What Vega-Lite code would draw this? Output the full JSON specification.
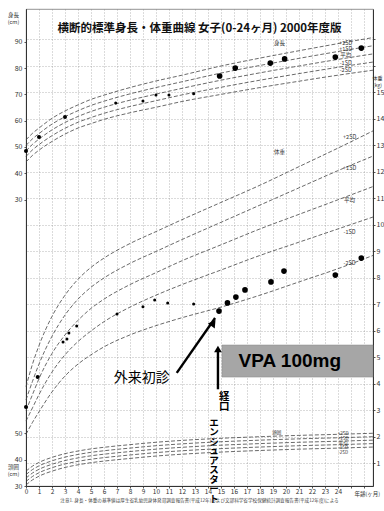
{
  "$schema": "https://vega.github.io/schema/vega-lite/v6.json",
  "width": 347,
  "height": 477,
  "autosize": "none",
  "padding": {"left": 26, "top": 9, "right": 11, "bottom": 25},
  "background": "white",
  "config": {
    "font": "Noto Sans CJK JP",
    "view": {"stroke": "#777", "strokeWidth": 0.8},
    "axis": {"labelFont": "Noto Sans CJK JP", "titleFont": "Noto Sans CJK JP", "labelColor": "#333", "titleColor": "#333", "tickColor": "#555", "domainColor": "#333"}
  },
  "title": {"text": "横断的標準身長・体重曲線 女子(0-24ヶ月) 2000年度版", "fontSize": 11.5, "fontWeight": "bold", "anchor": "middle", "offset": -25, "color": "#111", "font": "Noto Sans CJK JP"},
  "datasets": {
    "heightCurves": [
      {"month": 0, "-2SD": 44.3, "-1SD": 46.4, "平均": 48.5, "+1SD": 50.6, "+2SD": 52.7},
      {"month": 0.5, "-2SD": 46.8, "-1SD": 48.9, "平均": 51.0, "+1SD": 53.1, "+2SD": 55.2},
      {"month": 1, "-2SD": 48.8, "-1SD": 50.9, "平均": 53.0, "+1SD": 55.1, "+2SD": 57.2},
      {"month": 2, "-2SD": 52.1, "-1SD": 54.3, "平均": 56.5, "+1SD": 58.7, "+2SD": 60.9},
      {"month": 3, "-2SD": 54.9, "-1SD": 57.1, "平均": 59.3, "+1SD": 61.5, "+2SD": 63.7},
      {"month": 4, "-2SD": 57.2, "-1SD": 59.4, "平均": 61.6, "+1SD": 63.8, "+2SD": 66.0},
      {"month": 5, "-2SD": 58.9, "-1SD": 61.2, "平均": 63.5, "+1SD": 65.8, "+2SD": 68.1},
      {"month": 6, "-2SD": 60.5, "-1SD": 62.8, "平均": 65.1, "+1SD": 67.4, "+2SD": 69.7},
      {"month": 8, "-2SD": 63.0, "-1SD": 65.4, "平均": 67.8, "+1SD": 70.2, "+2SD": 72.6},
      {"month": 10, "-2SD": 65.1, "-1SD": 67.6, "平均": 70.1, "+1SD": 72.6, "+2SD": 75.1},
      {"month": 12, "-2SD": 67.3, "-1SD": 69.8, "平均": 72.3, "+1SD": 74.8, "+2SD": 77.3},
      {"month": 15, "-2SD": 70.0, "-1SD": 72.7, "平均": 75.4, "+1SD": 78.1, "+2SD": 80.8},
      {"month": 18, "-2SD": 72.6, "-1SD": 75.4, "平均": 78.2, "+1SD": 81.0, "+2SD": 83.8},
      {"month": 21, "-2SD": 75.0, "-1SD": 77.9, "平均": 80.8, "+1SD": 83.7, "+2SD": 86.6},
      {"month": 24, "-2SD": 77.3, "-1SD": 80.3, "平均": 83.3, "+1SD": 86.3, "+2SD": 89.3},
      {"month": 26.7, "-2SD": 79.2, "-1SD": 82.3, "平均": 85.4, "+1SD": 88.5, "+2SD": 91.6}
    ],
    "weightCurves": [
      {"month": 0, "-2SD": 2.1, "-1SD": 2.6, "平均": 3.0, "+1SD": 3.4, "+2SD": 3.9},
      {"month": 0.5, "-2SD": 2.55, "-1SD": 3.1, "平均": 3.6, "+1SD": 4.1, "+2SD": 4.75},
      {"month": 1, "-2SD": 2.95, "-1SD": 3.6, "平均": 4.2, "+1SD": 4.75, "+2SD": 5.45},
      {"month": 2, "-2SD": 3.7, "-1SD": 4.45, "平均": 5.15, "+1SD": 5.8, "+2SD": 6.55},
      {"month": 3, "-2SD": 4.3, "-1SD": 5.1, "平均": 5.85, "+1SD": 6.6, "+2SD": 7.35},
      {"month": 4, "-2SD": 4.75, "-1SD": 5.6, "平均": 6.4, "+1SD": 7.2, "+2SD": 7.95},
      {"month": 5, "-2SD": 5.1, "-1SD": 6.0, "平均": 6.85, "+1SD": 7.65, "+2SD": 8.4},
      {"month": 6, "-2SD": 5.4, "-1SD": 6.35, "平均": 7.2, "+1SD": 8.0, "+2SD": 8.75},
      {"month": 8, "-2SD": 5.85, "-1SD": 6.9, "平均": 7.75, "+1SD": 8.55, "+2SD": 9.3},
      {"month": 10, "-2SD": 6.2, "-1SD": 7.35, "平均": 8.2, "+1SD": 9.0, "+2SD": 9.75},
      {"month": 12, "-2SD": 6.5, "-1SD": 7.75, "平均": 8.65, "+1SD": 9.45, "+2SD": 10.2},
      {"month": 15, "-2SD": 6.9, "-1SD": 8.3, "平均": 9.25, "+1SD": 10.1, "+2SD": 10.85},
      {"month": 18, "-2SD": 7.35, "-1SD": 8.85, "平均": 9.85, "+1SD": 10.75, "+2SD": 11.5},
      {"month": 21, "-2SD": 7.85, "-1SD": 9.35, "平均": 10.4, "+1SD": 11.4, "+2SD": 12.2},
      {"month": 24, "-2SD": 8.35, "-1SD": 9.85, "平均": 10.95, "+1SD": 12.05, "+2SD": 12.9},
      {"month": 26.7, "-2SD": 8.85, "-1SD": 10.3, "平均": 11.45, "+1SD": 12.6, "+2SD": 13.55}
    ],
    "headCurves": [
      {"month": 0, "-2SD": 30.4, "-1SD": 31.7, "平均": 33.0, "+1SD": 34.3, "+2SD": 35.6},
      {"month": 0.5, "-2SD": 32.3, "-1SD": 33.6, "平均": 34.9, "+1SD": 36.2, "+2SD": 37.5},
      {"month": 1, "-2SD": 33.7, "-1SD": 35.0, "平均": 36.3, "+1SD": 37.6, "+2SD": 38.9},
      {"month": 2, "-2SD": 35.6, "-1SD": 36.9, "平均": 38.2, "+1SD": 39.5, "+2SD": 40.8},
      {"month": 3, "-2SD": 37.0, "-1SD": 38.3, "平均": 39.6, "+1SD": 40.9, "+2SD": 42.2},
      {"month": 4, "-2SD": 38.0, "-1SD": 39.3, "平均": 40.6, "+1SD": 41.9, "+2SD": 43.2},
      {"month": 5, "-2SD": 38.8, "-1SD": 40.1, "平均": 41.4, "+1SD": 42.7, "+2SD": 44.0},
      {"month": 6, "-2SD": 39.4, "-1SD": 40.7, "平均": 42.0, "+1SD": 43.3, "+2SD": 44.6},
      {"month": 8, "-2SD": 40.4, "-1SD": 41.7, "平均": 43.0, "+1SD": 44.3, "+2SD": 45.6},
      {"month": 10, "-2SD": 41.3, "-1SD": 42.6, "平均": 43.9, "+1SD": 45.2, "+2SD": 46.5},
      {"month": 12, "-2SD": 42.0, "-1SD": 43.3, "平均": 44.6, "+1SD": 45.9, "+2SD": 47.2},
      {"month": 15, "-2SD": 42.8, "-1SD": 44.1, "平均": 45.4, "+1SD": 46.7, "+2SD": 48.0},
      {"month": 18, "-2SD": 43.4, "-1SD": 44.7, "平均": 46.0, "+1SD": 47.3, "+2SD": 48.6},
      {"month": 21, "-2SD": 43.9, "-1SD": 45.2, "平均": 46.5, "+1SD": 47.8, "+2SD": 49.1},
      {"month": 24, "-2SD": 44.3, "-1SD": 45.6, "平均": 46.9, "+1SD": 48.2, "+2SD": 49.5},
      {"month": 26.7, "-2SD": 44.7, "-1SD": 46.0, "平均": 47.3, "+1SD": 48.6, "+2SD": 49.9}
    ],
    "heightPoints": [
      {"month": 0, "value": 48.5, "phase": "記録"},
      {"month": 1.0, "value": 53.8, "phase": "記録"},
      {"month": 3.0, "value": 61.4, "phase": "記録"},
      {"month": 6.9, "value": 66.7, "phase": "初診前"},
      {"month": 9.0, "value": 67.5, "phase": "初診前"},
      {"month": 10.0, "value": 69.8, "phase": "初診前"},
      {"month": 11.0, "value": 69.8, "phase": "初診前"},
      {"month": 12.9, "value": 70.2, "phase": "初診前"},
      {"month": 14.9, "value": 77.0, "phase": "初診後"},
      {"month": 16.1, "value": 80.0, "phase": "初診後"},
      {"month": 18.8, "value": 81.9, "phase": "初診後"},
      {"month": 19.9, "value": 83.5, "phase": "初診後"},
      {"month": 23.8, "value": 84.2, "phase": "初診後"},
      {"month": 25.8, "value": 87.6, "phase": "初診後"}
    ],
    "weightPoints": [
      {"month": 0, "value": 3.13, "phase": "記録"},
      {"month": 0.9, "value": 4.26, "phase": "記録"},
      {"month": 2.85, "value": 5.58, "phase": "初診前"},
      {"month": 3.15, "value": 5.70, "phase": "初診前"},
      {"month": 3.3, "value": 5.92, "phase": "初診前"},
      {"month": 3.9, "value": 6.19, "phase": "初診前"},
      {"month": 7.0, "value": 6.64, "phase": "初診前"},
      {"month": 9.0, "value": 6.91, "phase": "初診前"},
      {"month": 9.9, "value": 7.17, "phase": "初診前"},
      {"month": 10.9, "value": 7.06, "phase": "初診前"},
      {"month": 12.9, "value": 7.02, "phase": "初診前"},
      {"month": 14.85, "value": 6.75, "phase": "初診後"},
      {"month": 15.5, "value": 7.06, "phase": "初診後"},
      {"month": 16.15, "value": 7.28, "phase": "初診後"},
      {"month": 16.85, "value": 7.55, "phase": "初診後"},
      {"month": 18.85, "value": 7.85, "phase": "初診後"},
      {"month": 19.85, "value": 8.26, "phase": "初診後"},
      {"month": 23.8, "value": 8.11, "phase": "初診後"},
      {"month": 25.8, "value": 8.75, "phase": "初診後"}
    ],
    "heightLabels": [
      {"month": 24.6, "value": 89.5, "text": "+2SD"},
      {"month": 24.6, "value": 87.3, "text": "+1SD"},
      {"month": 24.6, "value": 85.0, "text": "平均"},
      {"month": 24.6, "value": 81.9, "text": "-1SD"},
      {"month": 24.6, "value": 79.3, "text": "-2SD"},
      {"month": 19.5, "value": 89.5, "text": "身長"}
    ],
    "weightLabels": [
      {"month": 24.9, "value": 13.32, "text": "+2SD"},
      {"month": 24.9, "value": 12.15, "text": "+1SD"},
      {"month": 24.9, "value": 10.94, "text": "平均"},
      {"month": 24.9, "value": 9.74, "text": "-1SD"},
      {"month": 24.9, "value": 8.57, "text": "-2SD"},
      {"month": 19.5, "value": 12.75, "text": "体重"}
    ],
    "headLabels": [
      {"month": 24.4, "value": 49.6, "text": "+2SD"},
      {"month": 24.4, "value": 47.8, "text": "+1SD"},
      {"month": 24.4, "value": 46.0, "text": "平均"},
      {"month": 24.4, "value": 44.2, "text": "-1SD"},
      {"month": 24.4, "value": 42.4, "text": "-2SD"},
      {"month": 19.3, "value": 50.0, "text": "頭囲"}
    ],
    "arrows": [
      {"arrow": "外来初診", "month": 11.6, "value": 4.42, "month2": 14.55, "value2": 6.49},
      {"arrow": "経口", "month": 14.77, "value": 3.8, "month2": 14.77, "value2": 5.3}
    ],
    "arrowHeads": [
      {"arrow": "外来初診", "month": 14.42, "value": 6.3},
      {"arrow": "経口", "month": 14.77, "value": 5.32}
    ],
    "box": [
      {"month": 15.08, "value": 4.26, "month2": 26.7, "value2": 5.47, "labelMonth": 20.3, "labelValue": 4.87, "text": "VPA 100mg"}
    ],
    "notes": [
      {"month": 8.9, "value": 4.23, "text": "外来初診"}
    ],
    "verticalNotes": [
      {"month": 15.25, "value": 3.7, "text": "経\n口", "kind": "a"},
      {"month": 14.46, "value": 2.72, "text": "エ\nン\nシ\nュ\nア\nス\nタ\nー\nト", "kind": "b"}
    ],
    "footnotes": [
      {"month": 13.35, "value": -0.42, "text": "注意1. 身長・体重の基準値は厚生省乳幼児身体発育調査報告書(平成12年)および文部科学省学校保健統計調査報告書(平成12年度)による"}
    ]
  },
  "encoding": {
    "x": {
      "field": "month", "type": "quantitative",
      "scale": {"domain": [0, 26.7], "nice": false, "zero": false},
      "axis": {
        "values": [0,1,2,3,4,5,6,7,8,9,10,11,12,13,14,15,16,17,18,19,20,21,22,23,24,25,26],
        "labelExpr": "datum.value <= 24 ? datum.label : ''",
        "grid": true, "gridDash": [1, 2], "gridColor": "#888", "gridWidth": 0.6,
        "tickSize": 2, "labelFontSize": 6.5, "labelPadding": 0, "labelFlush": false,
        "title": "年齢(ヶ月)", "titleFontSize": 5.5, "titleFontWeight": "normal",
        "titleX": 328, "titleY": 7, "titleAlign": "left", "titleBaseline": "middle"
      }
    }
  },
  "layer": [
    {
      "encoding": {
        "y": {
          "field": "value", "type": "quantitative",
          "scale": {"domain": [-78.9, 102.47], "nice": false, "zero": false},
          "axis": {
            "orient": "left", "values": [30, 40, 50, 60, 70, 80, 90], "grid": false,
            "tickSize": 2, "labelFontSize": 7, "labelPadding": 2,
            "title": ["身長", "(cm)"], "titleAngle": 0, "titleX": -13, "titleY": 3,
            "titleAlign": "center", "titleBaseline": "top", "titleFontSize": 5.5, "titleFontWeight": "normal"
          }
        }
      },
      "layer": [
        {
          "data": {"name": "heightCurves"},
          "transform": [{"fold": ["+2SD", "+1SD", "平均", "-1SD", "-2SD"], "as": ["sd", "value"]}],
          "mark": {"type": "line", "interpolate": "monotone", "strokeDash": [4, 2], "strokeWidth": 0.8, "color": "#444"},
          "encoding": {"detail": {"field": "sd"}}
        },
        {
          "data": {"name": "heightPoints"},
          "transform": [{"filter": "datum.phase === '記録'"}],
          "mark": {"type": "point", "filled": true, "shape": "circle", "color": "#000", "opacity": 1, "size": 16}
        },
        {
          "data": {"name": "heightPoints"},
          "transform": [{"filter": "datum.phase === '初診前'"}],
          "mark": {"type": "point", "filled": true, "shape": "circle", "color": "#000", "opacity": 1, "size": 9}
        },
        {
          "data": {"name": "heightPoints"},
          "transform": [{"filter": "datum.phase === '初診後'"}],
          "mark": {"type": "point", "filled": true, "shape": "circle", "color": "#000", "opacity": 1, "size": 32}
        },
        {
          "data": {"name": "heightLabels"},
          "mark": {"type": "text", "fontSize": 5.5, "color": "#333", "align": "center", "baseline": "middle"},
          "encoding": {"text": {"field": "text"}}
        }
      ]
    },
    {
      "encoding": {
        "y": {
          "field": "value", "type": "quantitative",
          "scale": {"domain": [30, 210], "nice": false, "zero": false},
          "axis": {
            "orient": "left", "values": [30, 40, 50], "grid": false,
            "tickSize": 2, "labelFontSize": 7, "labelPadding": 2,
            "title": ["頭囲", "(cm)"], "titleAngle": 0, "titleX": -13, "titleY": 455,
            "titleAlign": "center", "titleBaseline": "top", "titleFontSize": 5.5, "titleFontWeight": "normal"
          }
        }
      },
      "layer": [
        {
          "data": {"name": "headCurves"},
          "transform": [{"fold": ["+2SD", "+1SD", "平均", "-1SD", "-2SD"], "as": ["sd", "value"]}],
          "mark": {"type": "line", "interpolate": "monotone", "strokeDash": [4, 2], "strokeWidth": 0.8, "color": "#444"},
          "encoding": {"detail": {"field": "sd"}}
        },
        {
          "data": {"name": "headLabels"},
          "mark": {"type": "text", "fontSize": 4.5, "color": "#333", "align": "center", "baseline": "middle"},
          "encoding": {"text": {"field": "text"}}
        }
      ]
    },
    {
      "encoding": {
        "y": {
          "field": "value", "type": "quantitative",
          "scale": {"domain": [0.15, 18.15], "nice": false, "zero": false},
          "axis": {
            "orient": "right", "values": [1,2,3,4,5,6,7,8,9,10,11,12,13,14,15,16,17],
            "labelExpr": "datum.value <= 15 ? datum.label : ''",
            "grid": true, "gridDash": [1, 2], "gridColor": "#888", "gridWidth": 0.6,
            "tickSize": 2, "labelFontSize": 7, "labelPadding": 1,
            "title": ["体重", "(kg)"], "titleAngle": 0, "titleX": 4, "titleY": 66,
            "titleAlign": "center", "titleBaseline": "top", "titleFontSize": 5, "titleFontWeight": "normal"
          }
        }
      },
      "layer": [
        {
          "data": {"name": "weightCurves"},
          "transform": [{"fold": ["+2SD", "+1SD", "平均", "-1SD", "-2SD"], "as": ["sd", "value"]}],
          "mark": {"type": "line", "interpolate": "monotone", "strokeDash": [4, 2], "strokeWidth": 0.8, "color": "#444"},
          "encoding": {"detail": {"field": "sd"}}
        },
        {
          "data": {"name": "weightPoints"},
          "transform": [{"filter": "datum.phase === '記録'"}],
          "mark": {"type": "point", "filled": true, "shape": "circle", "color": "#000", "opacity": 1, "size": 16}
        },
        {
          "data": {"name": "weightPoints"},
          "transform": [{"filter": "datum.phase === '初診前'"}],
          "mark": {"type": "point", "filled": true, "shape": "circle", "color": "#000", "opacity": 1, "size": 9}
        },
        {
          "data": {"name": "weightPoints"},
          "transform": [{"filter": "datum.phase === '初診後'"}],
          "mark": {"type": "point", "filled": true, "shape": "circle", "color": "#000", "opacity": 1, "size": 32}
        },
        {
          "data": {"name": "weightLabels"},
          "mark": {"type": "text", "fontSize": 5.5, "color": "#333", "align": "center", "baseline": "middle"},
          "encoding": {"text": {"field": "text"}}
        },
        {
          "data": {"name": "box"},
          "mark": {"type": "rect", "color": "#a6a6a6", "stroke": "#888", "strokeWidth": 0.5},
          "encoding": {"x2": {"field": "month2"}, "y2": {"field": "value2"}}
        },
        {
          "data": {"name": "box"},
          "mark": {"type": "text", "fontSize": 19, "fontWeight": "bold", "font": "Liberation Sans", "color": "#000", "align": "center", "baseline": "middle"},
          "encoding": {"x": {"field": "labelMonth", "type": "quantitative"}, "y": {"field": "labelValue", "type": "quantitative"}, "text": {"field": "text"}}
        },
        {
          "data": {"name": "arrows"},
          "mark": {"type": "rule", "color": "#000", "strokeWidth": 2.4},
          "encoding": {"x2": {"field": "month2"}, "y2": {"field": "value2"}}
        },
        {
          "data": {"name": "arrowHeads"},
          "transform": [{"filter": "datum.arrow === '外来初診'"}],
          "mark": {"type": "point", "shape": "triangle-up", "filled": true, "color": "#000", "opacity": 1, "size": 70, "angle": 35},
          "encoding": {}
        },
        {
          "data": {"name": "arrowHeads"},
          "transform": [{"filter": "datum.arrow === '経口'"}],
          "mark": {"type": "point", "shape": "triangle-up", "filled": true, "color": "#000", "opacity": 1, "size": 60, "angle": 0},
          "encoding": {}
        },
        {
          "data": {"name": "notes"},
          "mark": {"type": "text", "fontSize": 14, "color": "#000", "align": "center", "baseline": "middle"},
          "encoding": {"text": {"field": "text"}}
        },
        {
          "data": {"name": "verticalNotes"},
          "transform": [{"filter": "datum.kind === 'a'"}],
          "mark": {"type": "text", "fontSize": 10.5, "fontWeight": "bold", "color": "#000", "align": "center", "baseline": "top", "lineBreak": "\n", "lineHeight": 10.5},
          "encoding": {"text": {"field": "text"}}
        },
        {
          "data": {"name": "verticalNotes"},
          "transform": [{"filter": "datum.kind === 'b'"}],
          "mark": {"type": "text", "fontSize": 9.5, "fontWeight": "bold", "color": "#000", "align": "center", "baseline": "top", "lineBreak": "\n", "lineHeight": 9.5},
          "encoding": {"text": {"field": "text"}}
        },
        {
          "data": {"name": "footnotes"},
          "mark": {"type": "text", "fontSize": 4.6, "color": "#444", "align": "center", "baseline": "middle"},
          "encoding": {"text": {"field": "text"}}
        }
      ]
    }
  ],
  "resolve": {"scale": {"y": "independent"}, "axis": {"y": "independent"}}
}
